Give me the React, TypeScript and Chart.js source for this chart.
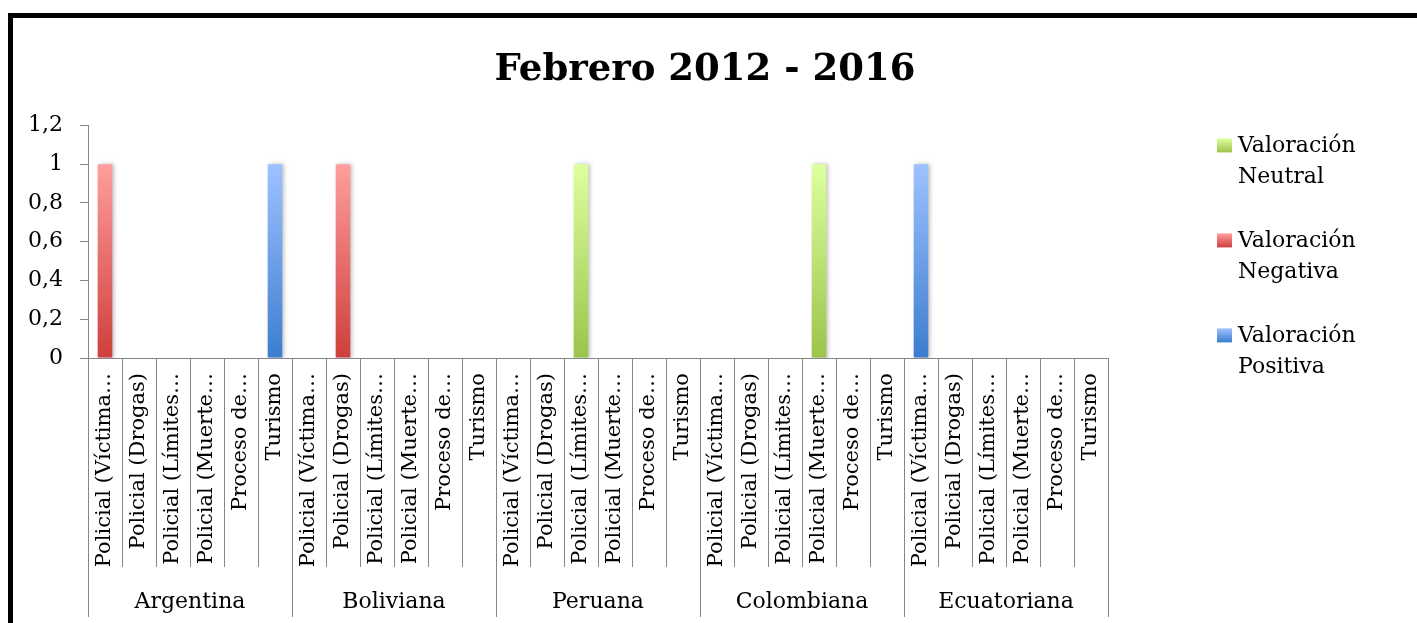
import React, { useEffect, useRef } from 'react';
import { Chart, registerables, layouts } from 'chart.js';

Chart.register(...registerables);

// ---------- data ----------
const countries = ['Argentina', 'Boliviana', 'Peruana', 'Colombiana', 'Ecuatoriana'];
const topics = [
  'Policial (Víctima…',
  'Policial (Drogas)',
  'Policial (Límites…',
  'Policial (Muerte…',
  'Proceso de…',
  'Turismo',
];
const seriesNames = ['Valoración Neutral', 'Valoración Negativa', 'Valoración Positiva'];

const neutralValues = [
  0, 0, 0, 0, 0, 0,
  0, 0, 0, 0, 0, 0,
  0, 0, 1, 0, 0, 0,
  0, 0, 0, 1, 0, 0,
  0, 0, 0, 0, 0, 0,
];
const negativeValues = [
  1, 0, 0, 0, 0, 0,
  0, 1, 0, 0, 0, 0,
  0, 0, 0, 0, 0, 0,
  0, 0, 0, 0, 0, 0,
  0, 0, 0, 0, 0, 0,
];
const positiveValues = [
  0, 0, 0, 0, 0, 1,
  0, 0, 0, 0, 0, 0,
  0, 0, 0, 0, 0, 0,
  0, 0, 0, 0, 0, 0,
  1, 0, 0, 0, 0, 0,
];

const yTickLabels = ['0', '0,2', '0,4', '0,6', '0,8', '1', '1,2'];
const yMin = 0;
const yMax = 1.2;
const yStep = 0.2;

const titleText = 'Febrero 2012 - 2016';

// ---------- style ----------
const FONT = '"DejaVu Serif", serif';
const AXIS_COLOR = '#868686';
const seriesGradients: string[][] = [
  ['#DEFF9E', '#9BC44B'],
  ['#FF9E9C', '#CD3F3C'],
  ['#9EC2FF', '#3C7DCF'],
];
const CANVAS_W = 1384;
const CANVAS_H = 605;
const LEGEND_W = 289;

const seriesValues = [neutralValues, negativeValues, positiveValues];
const labels = countries.flatMap(() => topics);

function makeGradient(ctx: CanvasRenderingContext2D, top: number, bottom: number, stops: string[]) {
  if (!Number.isFinite(top) || !Number.isFinite(bottom) || top === bottom) return stops[1];
  const g = ctx.createLinearGradient(0, top, 0, bottom);
  g.addColorStop(0, stops[0]);
  g.addColorStop(1, stops[1]);
  return g;
}

export default function App() {
  const canvasRef = useRef<HTMLCanvasElement | null>(null);

  useEffect(() => {
    document.documentElement.style.overflow = 'hidden';
    document.body.style.overflow = 'hidden';
    const canvas = canvasRef.current;
    if (!canvas) return;

    const groupAxisPlugin = {
      id: 'groupAxis',
      afterDraw(chart: any) {
        const xs = chart.scales.x;
        const area = chart.chartArea;
        const ctx: CanvasRenderingContext2D = chart.ctx;
        const n = chart.data.labels.length;
        const step = xs.getPixelForValue(1) - xs.getPixelForValue(0);
        ctx.save();
        ctx.strokeStyle = AXIS_COLOR;
        ctx.lineWidth = 1;
        for (let i = 0; i <= n; i++) {
          const center = i < n ? xs.getPixelForValue(i) : xs.getPixelForValue(n - 1) + step;
          const px = Math.round(center - step / 2) + 0.5;
          const isGroup = i % topics.length === 0;
          const len = isGroup ? 259 : 209;
          ctx.beginPath();
          ctx.moveTo(px, area.bottom);
          ctx.lineTo(px, area.bottom + len);
          ctx.stroke();
        }
        ctx.fillStyle = '#000';
        ctx.font = `22px ${FONT}`;
        ctx.textAlign = 'center';
        ctx.textBaseline = 'middle';
        countries.forEach((c, g) => {
          const first = g * topics.length;
          const last = first + topics.length - 1;
          const cx = (xs.getPixelForValue(first) + xs.getPixelForValue(last)) / 2;
          ctx.fillText(c, cx, area.bottom + 244);
        });
        ctx.restore();
      },
    };

    const shadowPlugin = {
      id: 'barShadow',
      beforeDatasetsDraw(chart: any) {
        const ctx = chart.ctx;
        ctx.save();
        ctx.shadowColor = 'rgba(0,0,0,0.25)';
        ctx.shadowBlur = 4;
        ctx.shadowOffsetX = 2;
        ctx.shadowOffsetY = 0;
      },
      afterDatasetsDraw(chart: any) {
        chart.ctx.restore();
      },
    };

    const legendPlugin = {
      id: 'multiLineLegend',
      beforeInit(chart: any) {
        const box: any = {
          position: 'right',
          weight: 1000,
          fullSize: false,
          options: {},
          left: 0,
          top: 0,
          right: 0,
          bottom: 0,
          width: 0,
          height: 0,
          isHorizontal() {
            return false;
          },
          update(_maxW: number, maxH: number) {
            this.width = LEGEND_W;
            this.height = maxH;
          },
          draw() {
            const ctx: CanvasRenderingContext2D = chart.ctx;
            const area = chart.chartArea;
            if (!area) return;
            ctx.save();
            ctx.font = `22px ${FONT}`;
            ctx.textAlign = 'left';
            ctx.textBaseline = 'alphabetic';
            const sx = this.left + 109;
            const tx = this.left + 130;
            chart.data.datasets.forEach((ds: any, i: number) => {
              const sqTop = area.top + 13 + i * 95;
              ctx.fillStyle = makeGradient(ctx, sqTop, sqTop + 14, seriesGradients[i]) as any;
              ctx.fillRect(sx, sqTop, 15, 14);
              ctx.fillStyle = '#000';
              const lines = String(ds.label).split(' ');
              lines.forEach((ln, k) => {
                ctx.fillText(ln, tx, sqTop + 14 + k * 31);
              });
            });
            ctx.restore();
          },
        };
        layouts.addBox(chart, box);
      },
    };

    const chart = new Chart(canvas, {
      type: 'bar',
      data: {
        labels,
        datasets: seriesNames.map((name, i) => ({
          label: name,
          data: seriesValues[i],
          borderWidth: 0,
          categoryPercentage: 1,
          barPercentage: 0.43,
          backgroundColor: (c: any) => {
            const ys = c.chart.scales?.y;
            if (!ys || c.type !== 'data') return seriesGradients[i][1];
            const v = typeof c.raw === 'number' && c.raw !== 0 ? c.raw : 1;
            return makeGradient(c.chart.ctx, ys.getPixelForValue(v), ys.getPixelForValue(0), seriesGradients[i]);
          },
        })),
      },
      options: {
        responsive: false,
        animation: false,
        layout: { padding: { left: 0, right: 0, top: 0, bottom: 0 } },
        plugins: {
          legend: { display: false },
          tooltip: { enabled: false },
          title: {
            display: true,
            text: titleText,
            color: '#000',
            font: { family: FONT, size: 37, weight: 'bold', lineHeight: 1.2 },
            padding: { top: 30, bottom: 33 },
          },
        },
        scales: {
          x: {
            stacked: true,
            offset: true,
            grid: { display: true, drawOnChartArea: false, drawTicks: false },
            border: { display: true, color: AXIS_COLOR, width: 1 },
            ticks: {
              autoSkip: false,
              minRotation: 90,
              maxRotation: 90,
              padding: 15,
              color: '#000',
              font: { family: FONT, size: 21 },
            },
            afterFit(scale: any) {
              scale.height = 265;
            },
          },
          y: {
            stacked: true,
            min: yMin,
            max: yMax,
            grid: { display: true, drawOnChartArea: false, drawTicks: true, tickLength: 8, color: AXIS_COLOR },
            border: { display: true, color: AXIS_COLOR, width: 1 },
            ticks: {
              stepSize: yStep,
              padding: 17,
              color: '#000',
              font: { family: FONT, size: 22 },
              callback: (value: any) => yTickLabels[Math.round((Number(value) - yMin) / yStep)] ?? '',
            },
            afterFit(scale: any) {
              scale.width = 75;
            },
          },
        },
      },
      plugins: [legendPlugin, groupAxisPlugin, shadowPlugin],
    } as any);

    return () => {
      chart.destroy();
    };
  }, []);

  return (
    <div
      style={{
        position: 'absolute',
        left: 8,
        top: 13,
        width: 1409,
        height: 610,
        boxSizing: 'border-box',
        borderTop: '5px solid #000',
        borderLeft: '5px solid #000',
        background: '#fff',
        overflow: 'hidden',
      }}
    >
      <canvas ref={canvasRef} width={CANVAS_W} height={CANVAS_H} style={{ display: 'block' }} />
    </div>
  );
}
